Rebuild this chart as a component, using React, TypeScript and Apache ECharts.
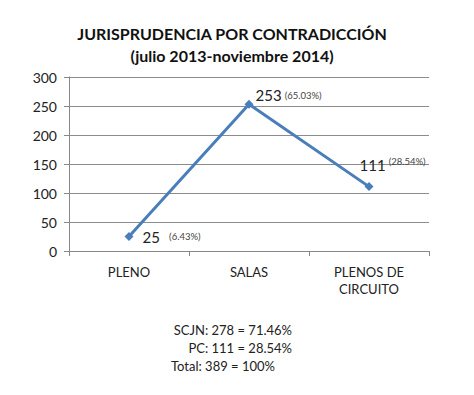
import React, { useEffect, useRef } from "react";
import * as echarts from "echarts";

const categories = ["PLENO", "SALAS", "PLENOS DE\nCIRCUITO"];
const values = [25, 253, 111];
const percents = ["(6.43%)", "(65.03%)", "(28.54%)"];
const yTicks = [0, 50, 100, 150, 200, 250, 300];
const titleLines = ["JURISPRUDENCIA POR CONTRADICCIÓN", "(julio 2013-noviembre 2014)"];
const summaryLines = ["SCJN: 278 = 71.46%", "PC: 111 = 28.54%", "Total: 389 = 100%"];

const FONT = "Lato, 'Open Sans', sans-serif";

export default function App() {
  const ref = useRef<HTMLDivElement>(null);
  useEffect(() => {
    document.body.style.margin = "0";
    const chart = echarts.init(ref.current!, null, { renderer: "svg" });
    const labelPositions: any[] = [
      { position: "right", distance: 9 },
      { position: [11, -12] },
      { position: [-5, -26] },
    ];
    chart.setOption({
      animation: false,
      backgroundColor: "#ffffff",
      textStyle: { fontFamily: FONT },
      grid: { left: 69, right: 45, top: 77, bottom: 144 },
      xAxis: {
        type: "category",
        data: categories,
        boundaryGap: true,
        axisLine: { show: true, lineStyle: { color: "#888888", width: 1 } },
        axisTick: { show: true, length: 5, lineStyle: { color: "#888888" } },
        axisLabel: { color: "#222222", fontSize: 13, margin: 12, lineHeight: 17, fontFamily: FONT },
      },
      yAxis: {
        type: "value",
        min: 0,
        max: 300,
        interval: 50,
        axisLine: { show: true, lineStyle: { color: "#888888", width: 1 } },
        axisTick: { show: true, length: 5, lineStyle: { color: "#888888" } },
        splitLine: { show: true, lineStyle: { color: "#8c8c8c", width: 1 } },
        axisLabel: {
          color: "#222222",
          fontSize: 14,
          margin: 12,
          fontFamily: FONT,
          formatter: (v: number) => (yTicks.includes(v) ? String(v) : ""),
        },
      },
      series: [
        {
          type: "line",
          data: values.map((v, i) => ({
            value: v,
            label: {
              show: true,
              ...labelPositions[i],
              formatter: i === 0 ? `{v|${v}}   {p|${percents[i]}}` : `{v|${v}} {p|${percents[i]}}`,
              rich: {
                v: { fontSize: 15, color: "#222222", fontFamily: FONT },
                p: {
                  fontSize: 9.5,
                  color: "#444444",
                  fontFamily: FONT,
                  verticalAlign: i === 2 ? "top" : "middle",
                  padding: i === 2 ? [0, 0, 8, 0] : 0,
                },
              },
            },
          })),
          symbol: "diamond",
          symbolSize: 9,
          lineStyle: { color: "#4a7ebb", width: 3 },
          itemStyle: { color: "#4a7ebb" },
        },
      ],
      graphic: [
        {
          type: "text",
          x: 232,
          y: 22,
          style: {
            text: titleLines.join("\n"),
            font: `bold 16px ${FONT}`,
            fill: "#111111",
            align: "center",
            lineHeight: 22,
          },
        },
        {
          type: "text",
          x: 292,
          y: 323,
          style: { text: summaryLines[0], font: `13px ${FONT}`, fill: "#222222", align: "right" },
        },
        {
          type: "text",
          x: 292,
          y: 341,
          style: { text: summaryLines[1], font: `13px ${FONT}`, fill: "#222222", align: "right" },
        },
        {
          type: "text",
          x: 171,
          y: 359,
          style: { text: summaryLines[2], font: `13px ${FONT}`, fill: "#222222" },
        },
      ],
    });
    return () => chart.dispose();
  }, []);
  return <div ref={ref} style={{ width: 474, height: 395 }} />;
}
